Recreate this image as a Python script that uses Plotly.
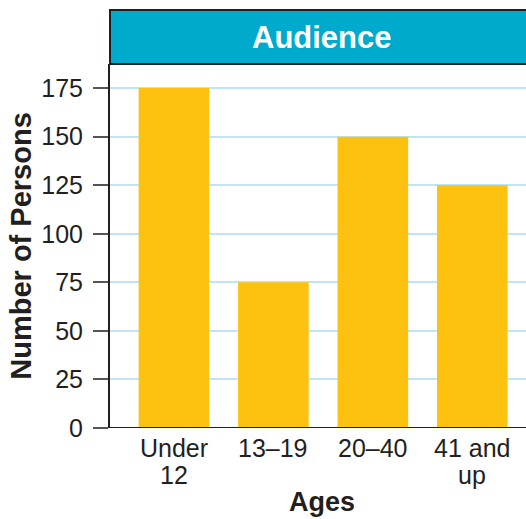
import plotly.graph_objects as go

# Audience counts by age group
ages = ["Under<br>12", "13–19", "20–40", "41 and<br>up"]
persons = [175, 75, 150, 125]
y_ticks = [0, 25, 50, 75, 100, 125, 150, 175]

INK = "#231F20"
TEAL = "#00AACD"
GOLD = "#FDC210"
GRID = "#BDE6F1"
FONT = "Liberation Sans, Arial, sans-serif"

# Plot-area geometry in pixels (used to place the header and labels)
PLOT_TOP, PLOT_BOTTOM = 64, 428
PLOT_LEFT, PLOT_RIGHT = 110, 526


def paper_y(py):
    return (PLOT_BOTTOM - py) / (PLOT_BOTTOM - PLOT_TOP)


def paper_x(px):
    return (px - PLOT_LEFT) / (PLOT_RIGHT - PLOT_LEFT)


fig = go.Figure(
    go.Bar(
        x=list(range(len(ages))),
        y=persons,
        marker=dict(color=GOLD, line=dict(width=0)),
        width=0.71,
        hoverinfo="skip",
    )
)

fig.update_layout(
    width=526,
    height=519,
    margin=dict(l=PLOT_LEFT, r=526 - PLOT_RIGHT, t=PLOT_TOP, b=519 - PLOT_BOTTOM),
    paper_bgcolor="white",
    plot_bgcolor="white",
    showlegend=False,
    font=dict(family=FONT, color=INK, size=25),
    xaxis=dict(
        range=[-0.643, 3.54],
        showticklabels=False,
        ticks="",
        showgrid=False,
        showline=False,
        zeroline=False,
    ),
    yaxis=dict(
        range=[0, 187.4],
        tickmode="array",
        tickvals=y_ticks,
        ticks="outside",
        ticklen=15,
        tickwidth=1.5,
        tickcolor="#555555",
        showgrid=True,
        gridcolor=GRID,
        gridwidth=1.5,
        showline=True,
        linecolor=INK,
        linewidth=2,
        zeroline=False,
        tickfont=dict(size=25, color=INK),
        ticklabelstandoff=5,
        title=dict(text="<b>Number of Persons</b>", font=dict(size=29, color=INK), standoff=1),
    ),
)

# Category labels, one line per annotation for tight line spacing
for i, label in enumerate(ages):
    for j, line in enumerate(label.split("<br>")):
        fig.add_annotation(
            text=line, xref="x", yref="paper",
            x=i, y=paper_y(448 + 27 * j),
            xanchor="center", yanchor="middle", showarrow=False,
            font=dict(size=25, color=INK, family=FONT),
        )

# Axis title below the categories
fig.add_annotation(
    text="<b>Ages</b>", xref="paper", yref="paper",
    x=paper_x(322), y=paper_y(502),
    xanchor="center", yanchor="middle", showarrow=False,
    font=dict(size=27, color=INK, family=FONT),
)

# Header band above the plot area with the chart title
band_top = paper_y(10)
fig.add_shape(
    type="rect", xref="paper", yref="paper",
    x0=0, x1=1.05, y0=1, y1=band_top,
    fillcolor=TEAL, line=dict(color=INK, width=2), layer="above",
)
# Baseline along zero
fig.add_shape(
    type="line", xref="paper", yref="y",
    x0=0, x1=1, y0=0, y1=0,
    line=dict(color=INK, width=2), layer="above",
)
fig.add_annotation(
    text="<b>Audience</b>", xref="paper", yref="paper",
    x=paper_x(322), y=(1 + band_top) / 2,
    xanchor="center", yanchor="middle", showarrow=False,
    font=dict(size=31, color="white", family=FONT),
)

fig.write_html("out.html")
